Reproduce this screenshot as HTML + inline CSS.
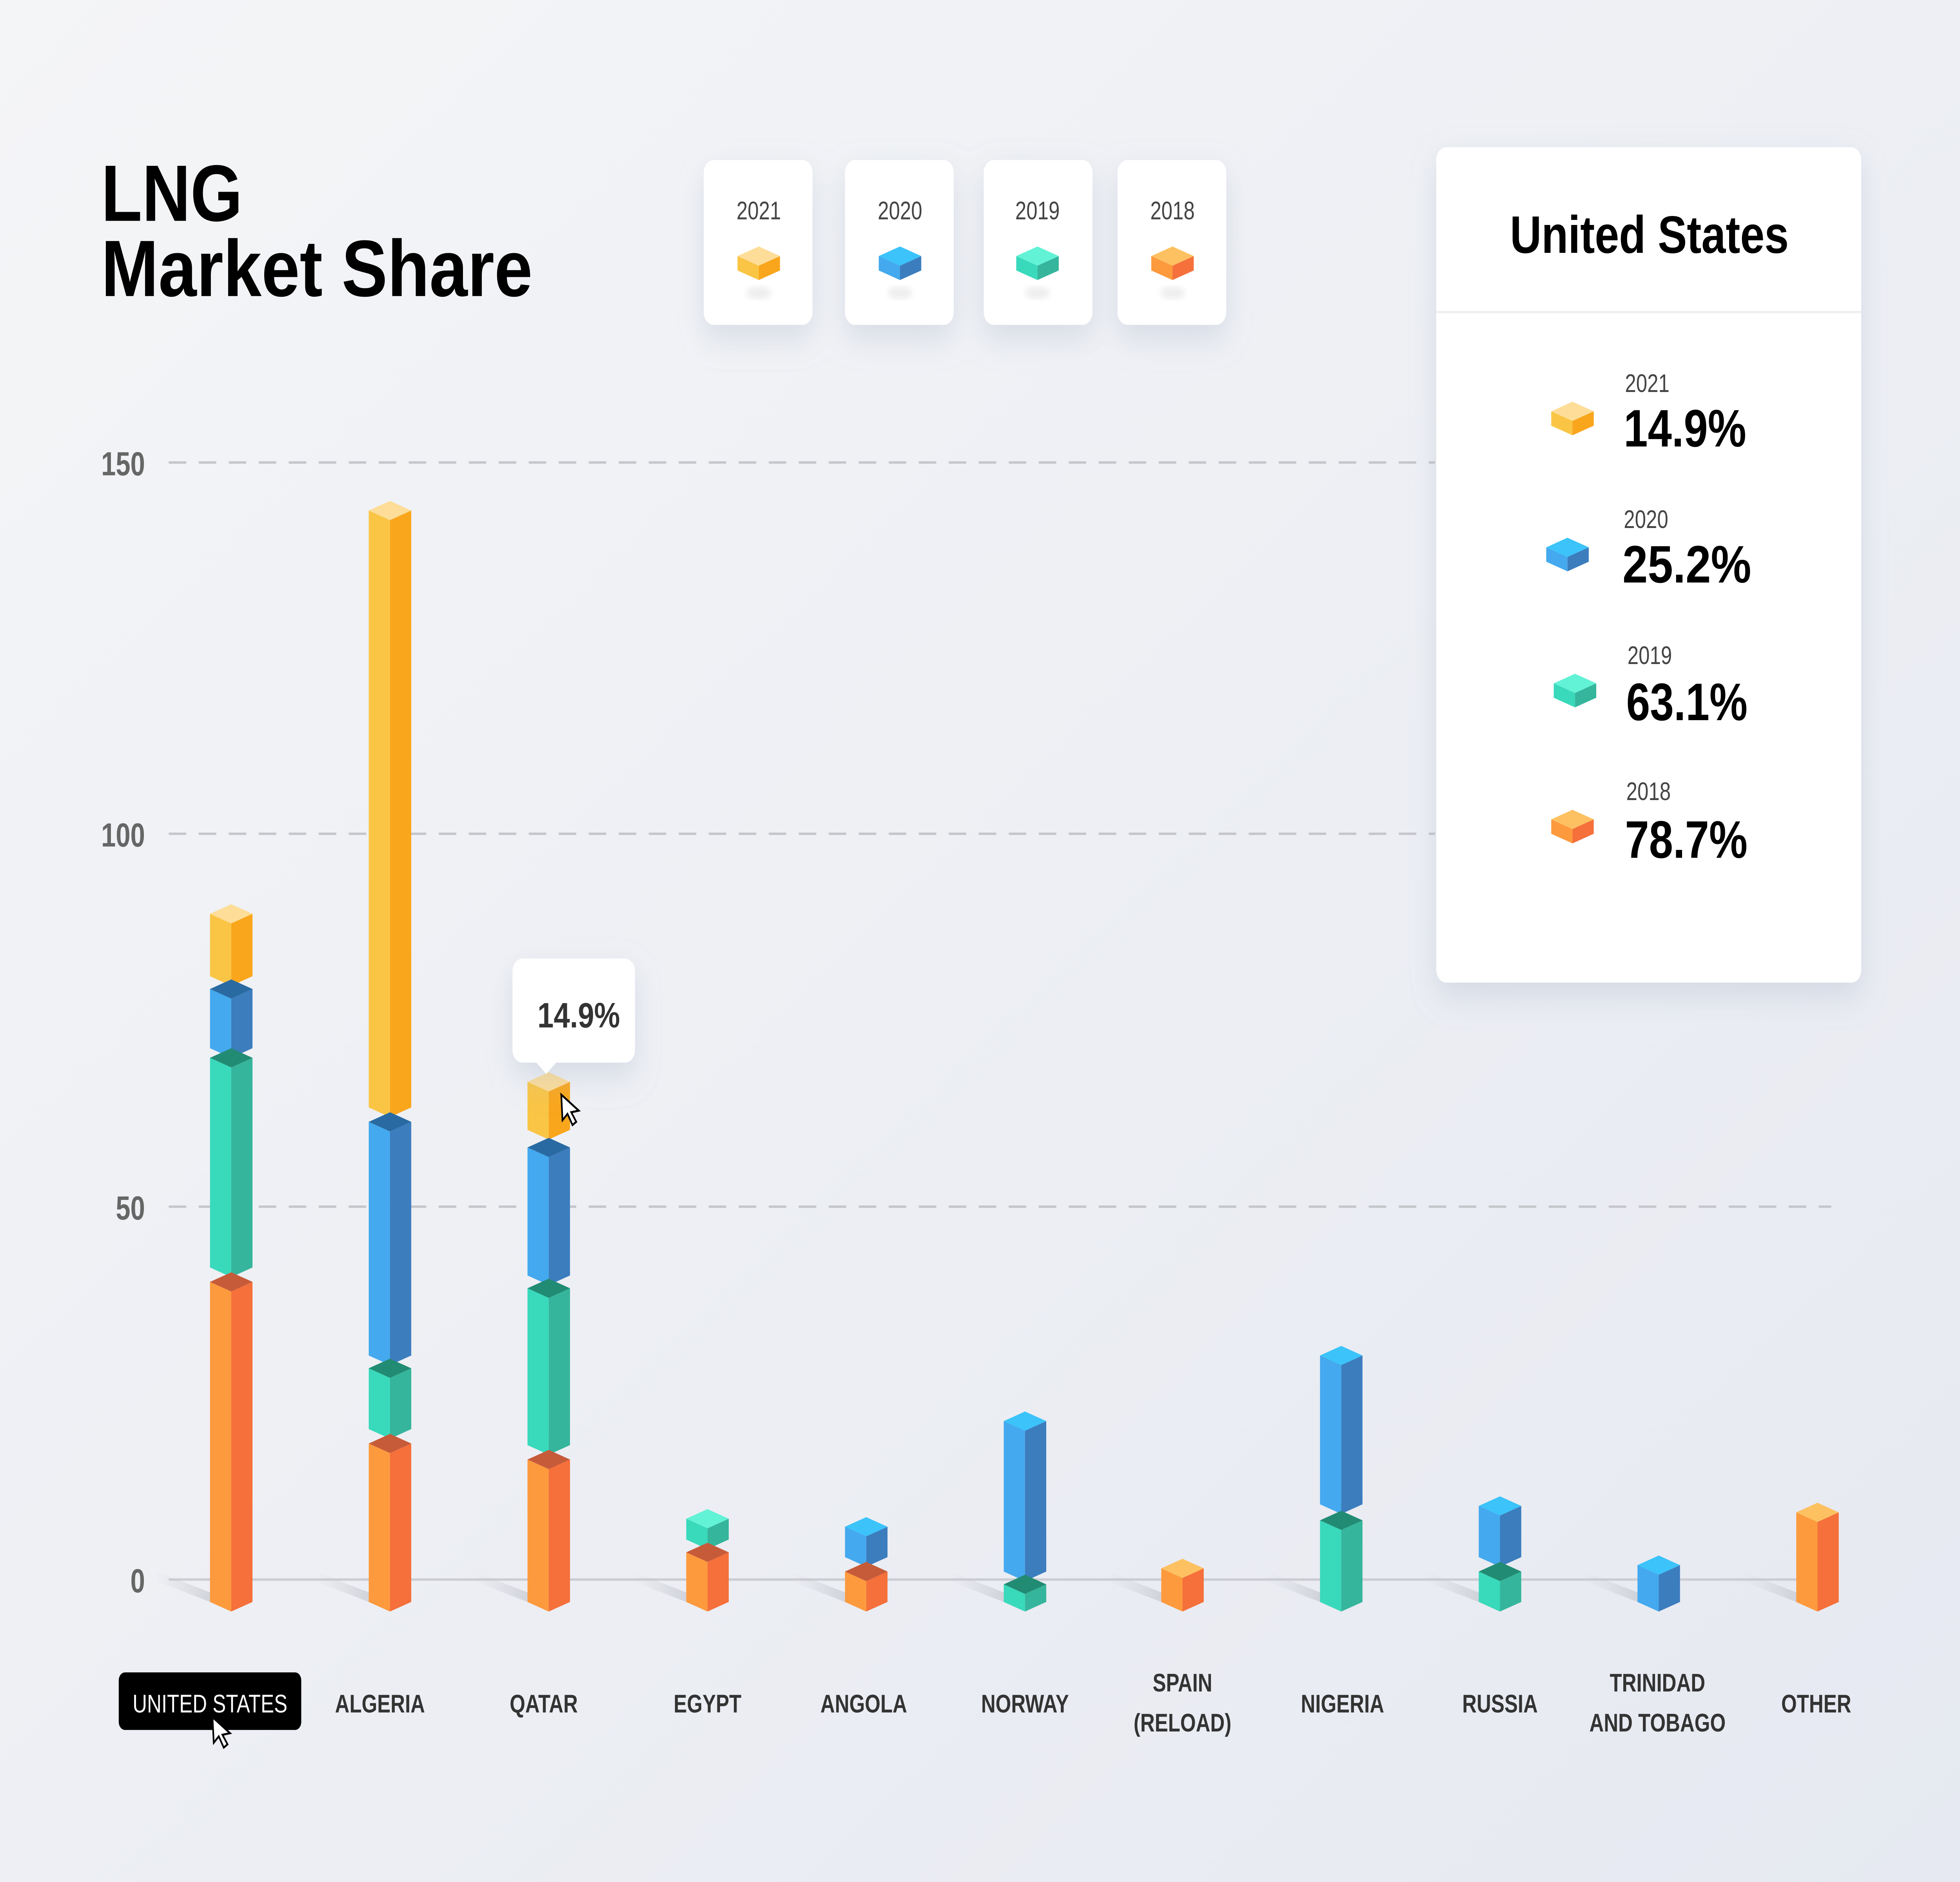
<!DOCTYPE html>
<html><head><meta charset="utf-8">
<style>
html,body{margin:0;padding:0;width:100vw;height:100vh;overflow:hidden;background:#eef0f4}
svg{display:block;width:100vw;height:100vh}
text{font-family:"Liberation Sans",sans-serif}
</style></head>
<body>
<svg id="s" viewBox="0 0 1568 1176" preserveAspectRatio="none" xmlns="http://www.w3.org/2000/svg">
<defs>
<linearGradient id="bg" x1="0" y1="0" x2="1" y2="1">
<stop offset="0" stop-color="#f4f5f7"/><stop offset="1" stop-color="#e6e9f1"/></linearGradient>
<linearGradient id="sh" x1="0" y1="0" x2="1" y2="0">
<stop offset="0" stop-color="#c8cad0" stop-opacity="0"/><stop offset="1" stop-color="#b9bcc4" stop-opacity="0.8"/></linearGradient>
<filter id="ds" x="-30%" y="-30%" width="160%" height="180%"><feDropShadow dx="0" dy="8" stdDeviation="10" flood-color="#a9b2c8" flood-opacity="0.35"/></filter>
<filter id="bl"><feGaussianBlur stdDeviation="2"/></filter>
</defs>
<rect width="1568" height="1176" fill="url(#bg)"/>
<text x="81" y="138" font-size="50" font-weight="bold" fill="#000" textLength="113" lengthAdjust="spacingAndGlyphs">LNG</text>
<text x="81" y="185" font-size="50" font-weight="bold" fill="#000" textLength="345" lengthAdjust="spacingAndGlyphs">Market Share</text>

<g stroke="#c4c6cb" stroke-width="1.5" stroke-dasharray="14 10">
<line x1="135" y1="289" x2="1148" y2="289"/>
<line x1="135" y1="521" x2="1148" y2="521"/>
<line x1="135" y1="754" x2="1465" y2="754"/>
</g>
<line x1="135" y1="987" x2="1465" y2="987" stroke="#cbcdd2" stroke-width="1.5"/>
<g font-size="21" font-weight="bold" fill="#666" text-anchor="end">
<text x="116" y="297">150</text><text x="116" y="529">100</text><text x="116" y="762">50</text><text x="116" y="995">0</text>
</g>

<g id="bars"></g>

<g filter="url(#ds)">
<rect x="563" y="100" width="87" height="103" rx="8" fill="#fff"/>
<rect x="676" y="100" width="87" height="103" rx="8" fill="#fff"/>
<rect x="787" y="100" width="87" height="103" rx="8" fill="#fff"/>
<rect x="894" y="100" width="87" height="103" rx="8" fill="#fff"/>
<rect x="1149" y="92" width="340" height="522" rx="8" fill="#fff"/>
</g>
<g font-size="16" fill="#444" text-anchor="middle">
<text x="607" y="137">2021</text><text x="720" y="137">2020</text><text x="830" y="137">2019</text><text x="938" y="137">2018</text>
</g>
<g fill="#eee" filter="url(#bl)">
<ellipse cx="607" cy="183" rx="10" ry="4"/><ellipse cx="720" cy="183" rx="10" ry="4"/><ellipse cx="830" cy="183" rx="10" ry="4"/><ellipse cx="938" cy="183" rx="10" ry="4"/>
</g>
<g id="cubes"></g>

<line x1="1149" y1="195" x2="1489" y2="195" stroke="#f0f0f0" stroke-width="1.5"/>
<text x="1208" y="158" font-size="33" font-weight="bold" fill="#000" textLength="223" lengthAdjust="spacingAndGlyphs">United States</text>
<g font-size="16" fill="#444">
<text x="1300" y="245">2021</text><text x="1299" y="330">2020</text><text x="1302" y="415">2019</text><text x="1301" y="500">2018</text>
</g>
<g font-size="33" font-weight="bold" fill="#000">
<text x="1299" y="279" textLength="98" lengthAdjust="spacingAndGlyphs">14.9%</text>
<text x="1298" y="364" textLength="103" lengthAdjust="spacingAndGlyphs">25.2%</text>
<text x="1301" y="450" textLength="97" lengthAdjust="spacingAndGlyphs">63.1%</text>
<text x="1300" y="536" textLength="98" lengthAdjust="spacingAndGlyphs">78.7%</text>
</g>

<g filter="url(#ds)">
<rect x="410" y="599" width="98" height="65" rx="8" fill="#fff"/>
<path d="M429 664 L437 671 L445 664Z" fill="#fff"/>
</g>
<text x="430" y="642" font-size="22" font-weight="bold" fill="#333" textLength="66" lengthAdjust="spacingAndGlyphs">14.9%</text>
<path d="M449 684 L450 700 L454 696 L458 703 L461 701 L457 695 L463 694Z" fill="#fff" stroke="#000" stroke-width="1.3"/>

<rect x="95" y="1045" width="146" height="36" rx="5" fill="#000"/>
<text x="168" y="1070" font-size="16" fill="#fff" text-anchor="middle">UNITED STATES</text>
<path d="M170 1073 L171 1089 L175 1085 L179 1092 L182 1090 L178 1084 L184 1083Z" fill="#fff" stroke="#000" stroke-width="1.3"/>
<g font-size="16" font-weight="bold" fill="#333" text-anchor="middle">
<text x="304" y="1070">ALGERIA</text>
<text x="435" y="1070">QATAR</text>
<text x="566" y="1070">EGYPT</text>
<text x="691" y="1070">ANGOLA</text>
<text x="820" y="1070">NORWAY</text>
<text x="946" y="1057">SPAIN</text><text x="946" y="1082">(RELOAD)</text>
<text x="1074" y="1070">NIGERIA</text>
<text x="1200" y="1070">RUSSIA</text>
<text x="1326" y="1057">TRINIDAD</text><text x="1326" y="1082">AND TOBAGO</text>
<text x="1453" y="1070">OTHER</text>
</g>
</svg>
<script>
var C={y:['#fac545','#f9a61c','#fddd98','#e39e10'],b:['#44a9ee','#3c7dbe','#3bc3fa','#2a6aa2'],
g:['#39d9bb','#35b59c','#62f2d6','#228b73'],o:['#fd9a3d','#f5703a','#fdc162','#c65b3a']};
var NS='http://www.w3.org/2000/svg';
function poly(p,f,par){var e=document.createElementNS(NS,'polygon');e.setAttribute('points',p);e.setAttribute('fill',f);par.appendChild(e);}
var bars=[[185,[['y',571,610],['b',618,655],['g',661,792],['o',801,1001]]],
[312,[['y',319,692],['b',701,847],['g',855,893],['o',902,1001]]],
[439,[['y',676,706],['b',717,797],['g',805,903],['o',912,1001]]],
[566,[['g',949,962],['o',970,1001]]],
[693,[['b',954,973],['o',982,1001]]],
[820,[['b',888,982],['g',990,1001]]],
[946,[['o',980,1001]]],
[1073,[['b',847,940],['g',950,1001]]],
[1200,[['b',941,973],['g',982,1001]]],
[1327,[['b',978,1001]]],
[1454,[['o',945,1001]]]];
var G=document.getElementById('bars'),w=17,d=6;
bars.forEach(function(B){var cx=B[0];
 poly((cx-60)+',982 '+(cx-17)+',995 '+(cx)+',1007 '+(cx-17)+',1001 '+(cx-60)+',988','url(#sh)',G);
 B[1].forEach(function(s,i){var c=C[s[0]],t=s[1],b=s[2];
  poly((cx-w)+','+t+' '+cx+','+(t+d)+' '+cx+','+(b+d)+' '+(cx-w)+','+b,c[0],G);
  poly((cx+w)+','+t+' '+cx+','+(t+d)+' '+cx+','+(b+d)+' '+(cx+w)+','+b,c[1],G);
  poly((cx-w)+','+t+' '+cx+','+(t-d)+' '+(cx+w)+','+t+' '+cx+','+(t+d),i==0?c[2]:c[3],G);
 });
});
var K=document.getElementById('cubes');
function cube(cx,cy,k,s){var c=C[k],hw=17*s,dd=6*s,h=9*s;
 poly((cx-hw)+','+cy+' '+cx+','+(cy+dd)+' '+cx+','+(cy+dd+h)+' '+(cx-hw)+','+(cy+h),c[0],K);
 poly((cx+hw)+','+cy+' '+cx+','+(cy+dd)+' '+cx+','+(cy+dd+h)+' '+(cx+hw)+','+(cy+h),c[1],K);
 poly((cx-hw)+','+cy+' '+cx+','+(cy-dd)+' '+(cx+hw)+','+cy+' '+cx+','+(cy+dd),c[2],K);}
cube(607,160,'y',1);cube(720,160,'b',1);cube(830,160,'g',1);cube(938,160,'o',1);
cube(1258,257,'y',1);cube(1254,342,'b',1);cube(1260,427,'g',1);cube(1258,512,'o',1);
</script>
</body></html>
